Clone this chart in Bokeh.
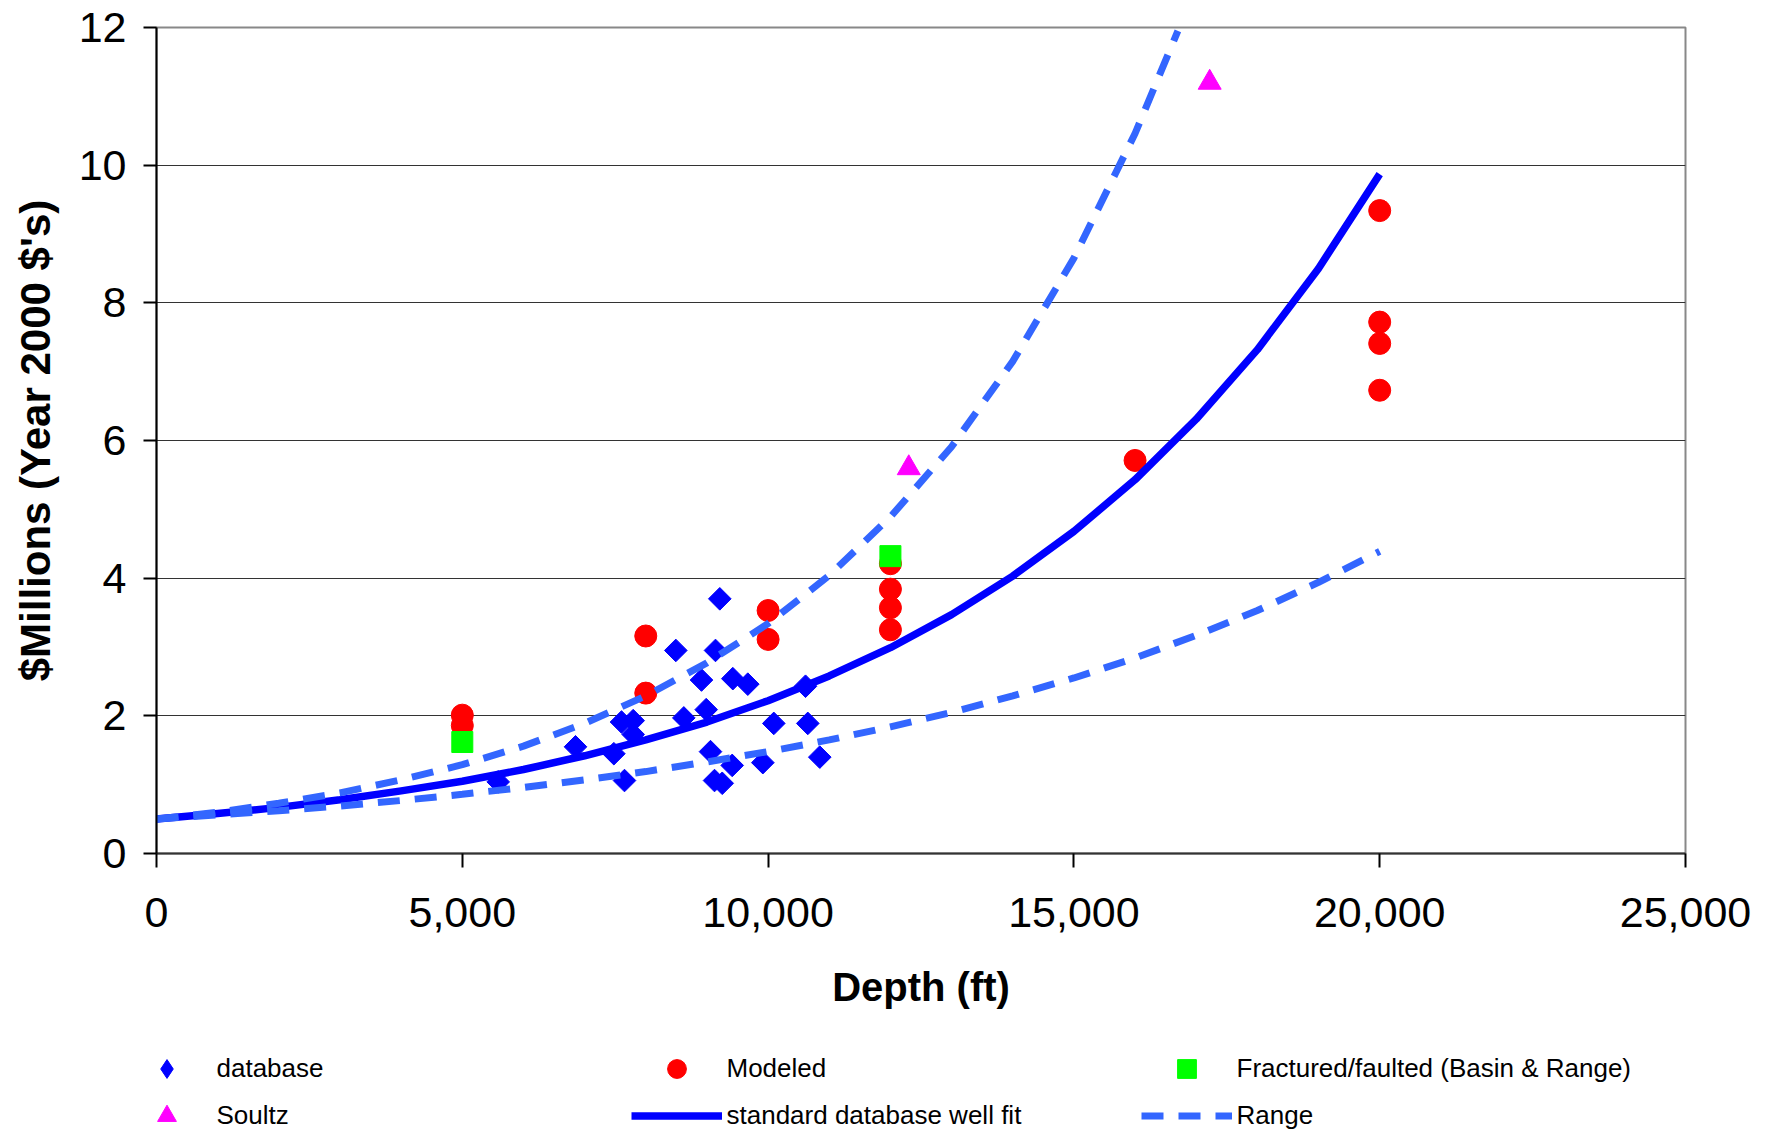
import numpy as np
from bokeh.plotting import figure
from bokeh.layouts import column
from bokeh.models import Range1d, Legend, LegendItem, NumeralTickFormatter, FixedTicker
from bokeh.embed import file_html
from bokeh.resources import INLINE

# ---- data ----
db_depth = [9210, 8491, 9140, 8911, 9423, 9668, 10612, 7603, 7794, 7794, 8622, 8988,
            6851, 7478, 10093, 10649, 9058, 9413, 9914, 10845, 7652, 9124, 9250, 5587]
db_cost = [3.70, 2.95, 2.95, 2.52, 2.54, 2.46, 2.43, 1.91, 1.93, 1.73, 1.97, 2.09,
           1.55, 1.45, 1.89, 1.89, 1.48, 1.28, 1.32, 1.40, 1.06, 1.06, 1.02, 1.04]

mod_depth = [5000, 5000, 8000, 8000, 10000, 10000, 12000, 12000, 12000, 12000, 16000,
             20000, 20000, 20000, 20000]
mod_cost = [2.01, 1.86, 3.16, 2.33, 3.53, 3.11, 4.21, 3.84, 3.57, 3.25, 5.71,
            9.34, 7.72, 7.41, 6.73]

frac_depth = [5000, 12000]
frac_cost = [1.62, 4.32]

soultz_depth = [12300, 17220]
soultz_cost = [5.60, 11.20]

fit_depth = [0, 1000, 2000, 3000, 4000, 5000, 6000, 7000, 8000, 9000, 10000, 11000,
             12000, 13000, 14000, 15000, 16000, 17000, 18000, 19000, 20000]
fit_cost = [0.50, 0.58, 0.67, 0.78, 0.91, 1.05, 1.22, 1.42, 1.65, 1.91, 2.22, 2.58,
            2.99, 3.47, 4.03, 4.68, 5.43, 6.31, 7.32, 8.50, 9.87]

upper_depth = [0, 1000, 2000, 3000, 4000, 5000, 6000, 7000, 8000, 9000, 10000, 11000,
               12000, 13000, 14000, 15000, 16000, 16700]
upper_cost = [0.50, 0.60, 0.73, 0.88, 1.07, 1.29, 1.56, 1.89, 2.29, 2.77, 3.34, 4.04,
              4.89, 5.91, 7.15, 8.65, 10.46, 11.95]

lower_depth = [0, 1000, 2000, 3000, 4000, 5000, 6000, 7000, 8000, 9000, 10000, 11000,
               12000, 13000, 14000, 15000, 16000, 17000, 18000, 19000, 20000]
lower_cost = [0.50, 0.56, 0.62, 0.69, 0.77, 0.86, 0.96, 1.07, 1.19, 1.33, 1.48, 1.65,
              1.84, 2.05, 2.29, 2.55, 2.84, 3.17, 3.53, 3.94, 4.39]

x_ticks = [0, 5000, 10000, 15000, 20000, 25000]
y_ticks = [0, 2, 4, 6, 8, 10, 12]

legend_labels = ["database", "Modeled", "Fractured/faulted (Basin & Range)",
                 "Soultz", "standard database well fit", "Range"]

# ---- styles ----
DB = dict(fill_color="#0000FF", line_color="#0000FF")
MOD = dict(marker="circle", fill_color="#FF0000", line_color="#FF0000")
FRAC = dict(marker="square", fill_color="#00FF00", line_color="#00FF00")
SOU = dict(marker="triangle", fill_color="#FF00FF", line_color="#FF00FF")
FIT = dict(line_color="#0000FF", line_width=7.5, line_join="round")
RNG = dict(line_color="#3366FF", line_width=7, line_dash="22 15")

# ---- main figure ----
W = 1765
H_MAIN = 1026
H_LEG = 106
p = figure(width=W, height=H_MAIN, output_backend="svg", toolbar_location=None,
           x_range=Range1d(0, 25000), y_range=Range1d(0, 12),
           min_border_left=156, min_border_right=W - 1685, min_border_top=27,
           min_border_bottom=H_MAIN - 853)
p.background_fill_color = "white"
p.border_fill_color = "white"
p.outline_line_color = "#888888"
p.outline_line_width = 2

p.xgrid.visible = False
p.ygrid.ticker = FixedTicker(ticks=y_ticks)
p.ygrid.grid_line_color = "#333333"
p.ygrid.grid_line_width = 1.2

p.xaxis.ticker = FixedTicker(ticks=x_ticks)
p.yaxis.ticker = FixedTicker(ticks=y_ticks)
p.xaxis.formatter = NumeralTickFormatter(format="0,0")
for ax in (p.xaxis, p.yaxis):
    ax.minor_tick_line_color = None
    ax.major_tick_in = 0
    ax.major_label_text_font = "Liberation Sans"
    ax.major_label_text_font_size = "43px"
    ax.major_label_text_color = "black"
    ax.major_tick_line_color = "black"
    ax.major_tick_line_width = 2
    ax.axis_label_text_font = "Liberation Sans"
    ax.axis_label_text_font_style = "bold"
    ax.axis_label_text_color = "black"
p.xaxis.major_tick_out = 14
p.yaxis.major_tick_out = 13
p.xaxis.major_label_standoff = 30
p.yaxis.major_label_standoff = 17
p.yaxis.axis_line_color = "black"
p.yaxis.axis_line_width = 2
p.xaxis.axis_line_color = "#333333"
p.xaxis.axis_line_width = 2

p.xaxis.axis_label = "Depth (ft)"
p.xaxis.axis_label_text_font_size = "40px"
p.xaxis.axis_label_standoff = 35
p.yaxis.axis_label = "$Millions (Year 2000 $'s)"
p.yaxis.axis_label_text_font_size = "42px"
p.yaxis.axis_label_standoff = 17

p.scatter(db_depth, db_cost, marker="square", angle=np.pi / 4, size=16, **DB)
p.scatter(mod_depth, mod_cost, size=22, **MOD)
p.scatter(frac_depth, frac_cost, size=21, **FRAC)
p.scatter(soultz_depth, soultz_cost, size=23, **SOU)
p.line(fit_depth, fit_cost, **FIT)
p.line(upper_depth, upper_cost, **RNG)
p.line(lower_depth, lower_cost, **RNG)

# ---- legend strip (own small figure below the chart) ----
lf = figure(width=W, height=H_LEG, output_backend="svg", toolbar_location=None,
            x_range=Range1d(0, 1), y_range=Range1d(0, 1),
            x_axis_location=None, y_axis_location=None,
            min_border_left=0, min_border_right=0, min_border_top=0, min_border_bottom=0)
lf.grid.visible = False
lf.outline_line_color = None
lf.background_fill_color = "white"
lf.border_fill_color = "white"
off = [-5]
l_db = lf.scatter(off, off, marker="diamond", size=16, **DB)
l_mod = lf.scatter(off, off, size=22, **MOD)
l_frac = lf.scatter(off, off, size=21, **FRAC)
l_sou = lf.scatter(off, off, size=23, **SOU)
l_fit = lf.line([-5, -4], off * 2, **FIT)
l_rng = lf.line([-5, -4], off * 2, **RNG)

legend = Legend(items=[LegendItem(label=t, renderers=[r]) for t, r in
                       zip(legend_labels, [l_db, l_mod, l_frac, l_sou, l_fit, l_rng])],
                orientation="horizontal", ncols=3, location=(-35.5, -6.5),
                glyph_width=91, glyph_height=47, label_height=47, label_width=414,
                label_standoff=5, spacing=0, padding=0, margin=0,
                border_line_color=None, background_fill_alpha=0,
                label_text_font="Liberation Sans", label_text_font_size="26px",
                label_text_color="black")
lf.add_layout(legend)

open("out.html", "w").write(file_html(column(p, lf, spacing=0), INLINE))
